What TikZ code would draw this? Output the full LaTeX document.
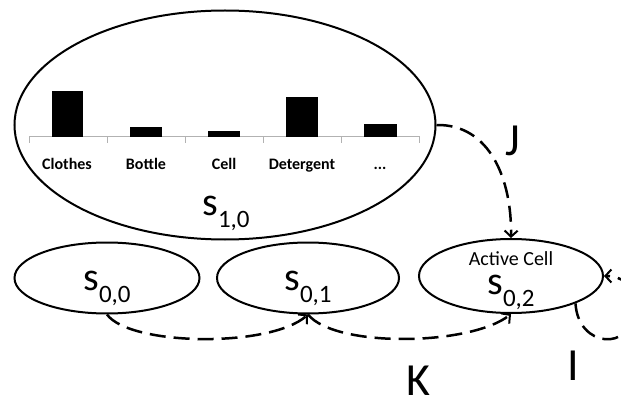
\documentclass[tikz,border=0pt]{standalone}
\usepackage{fontspec}
\setmainfont{Carlito}
\usetikzlibrary{shapes.geometric,arrows.meta}
\newcommand{\slab}[1]{{\fontsize{40}{40}\selectfont s}\raisebox{-12pt}{\fontsize{25}{25}\selectfont #1}}
\tikzset{
  state/.style={ellipse,draw,line width=2pt,inner sep=0pt},
  edge/.style={line width=2.5pt,dash pattern=on 16pt off 8pt,-{Straight Barb[length=6pt,width=13pt,line width=2pt]}},
  bar/.style={fill=black,draw=none},
  cat/.style={font=\bfseries\fontsize{16}{16}\selectfont,anchor=base,inner sep=0pt},
  lab/.style={anchor=base,inner sep=0pt},
  big/.style={font=\fontsize{46}{46}\selectfont,anchor=base,inner sep=0pt},
}
\begin{document}
\begin{tikzpicture}[x=1pt,y=-1pt]
\useasboundingbox (0,0) rectangle (621,401);
\clip (0,0) rectangle (621,401);
\fill[white] (0,0) rectangle (621,401);
% states
\node[state,minimum width=421pt,minimum height=229pt] (s10) at (225,125) {};
\node[state,minimum width=185pt,minimum height=71pt] (s00) at (107,278) {};
\node[state,minimum width=182pt,minimum height=71pt] (s01) at (308,278) {};
\node[state,minimum width=184pt,minimum height=74pt] (s02) at (511,276) {};
% bar chart
\draw[gray!60,line width=1pt] (29,137) -- (420,137);
\foreach \x in {29,107,185,263,341,419} \draw[gray!60,line width=1pt] (\x,137) -- (\x,143);
\fill[bar] (52,91) rectangle (83,137);
\fill[bar] (130,127) rectangle (162,137);
\fill[bar] (208,131) rectangle (240,137);
\fill[bar] (286,97) rectangle (318,137);
\fill[bar] (364,124) rectangle (397,137);
\node[cat] (c1) at (67,169) {Clothes};
\node[cat] (c2) at (146,169) {Bottle};
\node[cat] (c3) at (224,169) {Cell};
\node[cat] (c4) at (302,169) {Detergent};
\node[cat] (c5) at (380,169) {...};
% labels
\node[lab] (l10) at (226,215) {\slab{1,0}};
\node[lab] (l00) at (107,290) {\slab{0,0}};
\node[lab] (l01) at (308,290) {\slab{0,1}};
\node[lab] (l02) at (511,294) {\slab{0,2}};
\node[lab,font=\fontsize{20}{20}\selectfont] (ac) at (511,265) {Active Cell};
\node[big] (J) at (513,155) {J};
\node[big] (K) at (418,395) {K};
\node[big] (I) at (573,380) {I};
% connectors
\draw[edge] (s10.east) .. controls (490,124) and (512,180) .. (s02.north);
\draw[edge] (s00.south) .. controls (130,346) and (270,348) .. (s01.south);
\draw[edge] (s01.south) .. controls (335,348) and (470,346) .. (s02.south);
\draw[edge] (s02.-23) .. controls (578,348) and (632,352) .. (634,310) .. controls (636,285) and (622,276) .. (s02.east);
\end{tikzpicture}
\end{document}
